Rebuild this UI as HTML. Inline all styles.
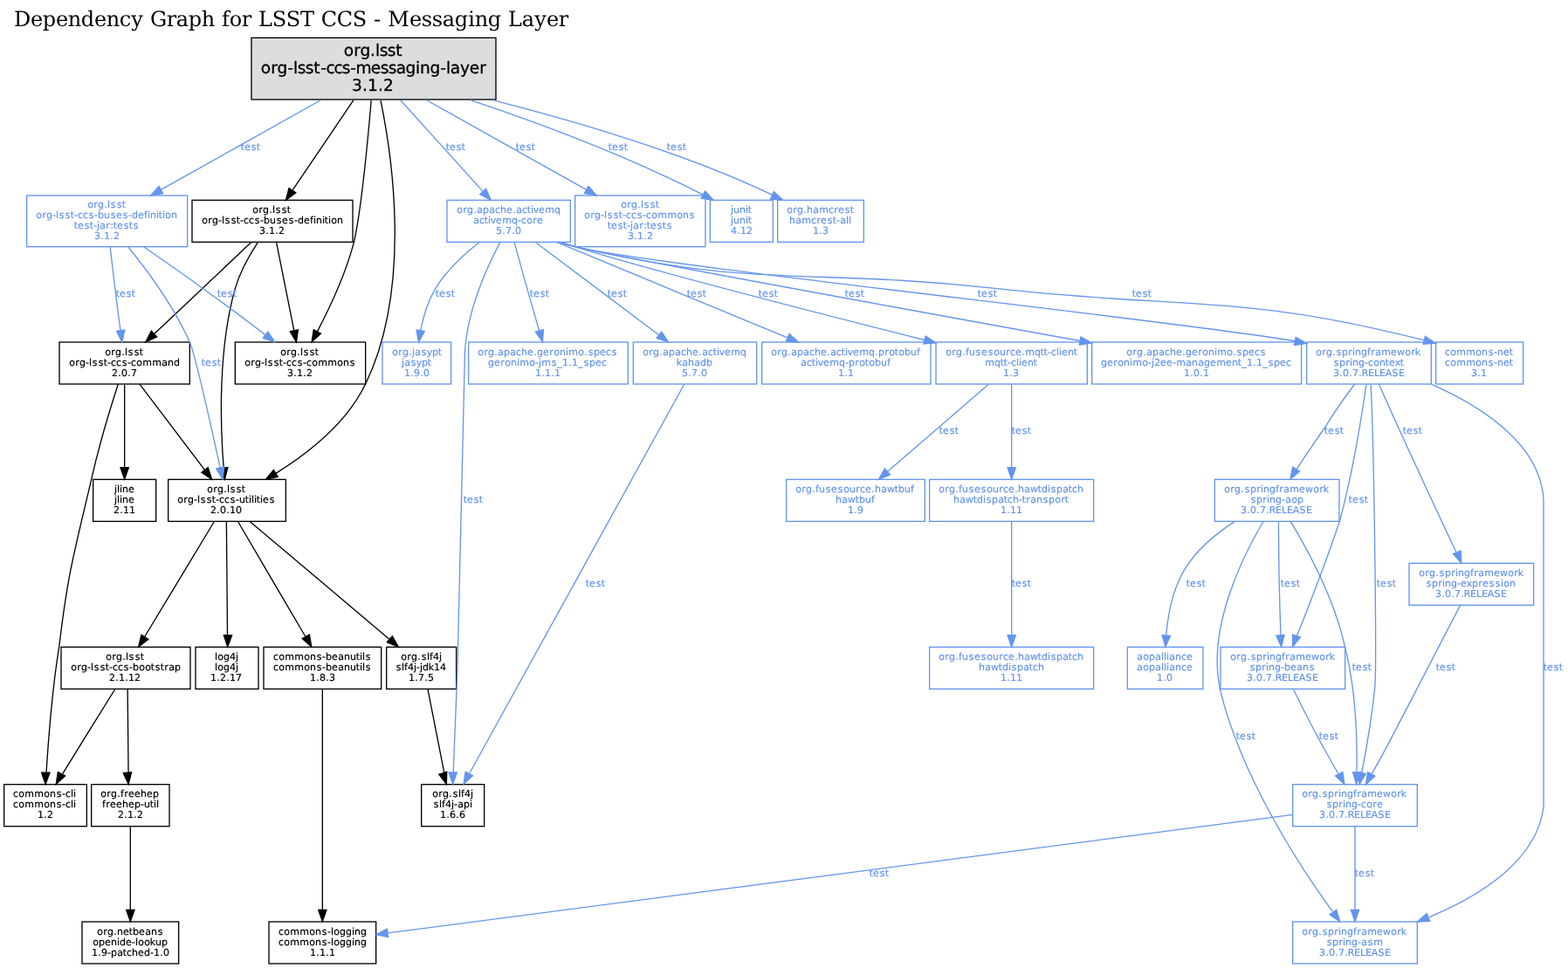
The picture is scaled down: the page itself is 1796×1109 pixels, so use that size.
<!DOCTYPE html>
<html lang="en"><head><meta charset="utf-8"><title>Dependency Graph for LSST CCS - Messaging Layer</title>
<style>html,body{margin:0;padding:0;background:#fff}svg{display:block;will-change:transform;transform:translateZ(0)}text{font-kerning:none;font-variant-ligatures:none;text-rendering:geometricPrecision;white-space:pre}.t{font-family:"DejaVu Serif","Liberation Serif",serif;font-size:24px;fill:#000}.r{font-family:"DejaVu Sans","Liberation Sans",sans-serif;font-size:18.6px;fill:#000;stroke:#000;stroke-width:0.3}.k{font-family:"DejaVu Sans","Liberation Sans",sans-serif;font-size:11px;fill:#000;stroke:#000;stroke-width:0.2}.b{font-family:"DejaVu Sans","Liberation Sans",sans-serif;font-size:11px;fill:#6495ed;stroke:#6495ed;stroke-width:0.2}.ek{fill:none;stroke:#000;stroke-width:1.3333}.eb{fill:none;stroke:#6495ed;stroke-width:1.3333}.ak{fill:#000;stroke:#000;stroke-width:1.3333}.ab{fill:#6495ed;stroke:#6495ed;stroke-width:1.3333}.nk{fill:none;stroke:#000;stroke-width:1.3333}.nb{fill:none;stroke:#6495ed;stroke-width:1.3333}.nr{fill:#ddd;stroke:#000;stroke-width:1.3333}</style></head><body>
<svg width="1796" height="1109" viewBox="0 0 1796 1109">
<rect x="0" y="0" width="1796" height="1109" fill="#fff"/>
<text class="t" x="15.88 34.9 48.82 63.9 77.77 92.82 107.9 121.77 136.78 150.22 164.19 171.91 190.76 201.85 215.82 230.77 246.19 254.06 262.78 276.76 288.19 296.03 311.78 327.78 344 360.19 367.82 385.82 403.78 420.19 427.95 436.19 444.21 468.9 482.84 494.84 506.85 520.82 536.16 543.77 558.82 574.19 582.03 597.85 612.22 625.9 639.76" y="30">Dependency Graph for LSST CCS - Messaging Layer</text>
<g id="nodes">
<g id="n-root"><rect class="nr" x="288" y="43.33" width="280" height="70.67"/>
<text class="r" x="393.81 405.18 412.6 424.04 429.92 434.65 443.65 453.35" y="64">org.lsst</text>
<text class="r" x="298.81 310.18 317.6 329.14 335.92 340.65 349.65 359.35 367.14 373.39 382.39 391.65 401.14 407.44 424.78 435.65 444.65 453.8 464.6 475.92 481.11 492.6 504.14 510.92 515.8 527 537.78 549.18" y="84">org-lsst-ccs-messaging-layer</text>
<text class="r" x="403.08 415.04 421.08 433.04 439.08" y="104">3.1.2</text>
</g>
<g id="n-busdeft"><rect class="nb" x="30.67" y="224" width="184" height="58.67"/>
<text class="b" x="100.14 107.24 112.01 119.25 122.97 126.63 133.63 139.84" y="238">org.lsst</text>
<text class="b" x="41.14 48.24 53.01 60.02 63.97 67.63 74.63 80.84 85.02 88.98 94.98 101.63 108.02 112.01 119.01 126.63 133.12 140.63 147.02 151.01 158.12 165.06 168.97 172.01 178.97 181.84 185.97 189.14 196.01" y="250">org-lsst-ccs-buses-definition</text>
<text class="b" x="84.84 89.12 96.63 102.84 107.02 110.97 114.13 121.24 126.15 129.84 134.12 141.63 147.84 152.63" y="262">test-jar:tests</text>
<text class="b" x="108 115.25 119 126.25 130" y="274">3.1.2</text>
</g>
<g id="n-busdef"><rect class="nk" x="220" y="229.33" width="184" height="48"/>
<text class="k" x="289.14 296.24 301.01 308.25 311.97 315.63 322.63 328.84" y="244">org.lsst</text>
<text class="k" x="231.14 238.24 243.01 250.02 253.97 257.63 264.63 270.84 275.02 278.98 284.98 291.63 298.02 302.01 309.01 316.63 323.12 330.63 337.02 341.01 348.12 355.06 358.97 362.01 368.97 371.84 375.97 379.14 386.01" y="256">org-lsst-ccs-buses-definition</text>
<text class="k" x="297 304.25 308 315.25 319" y="268">3.1.2</text>
</g>
<g id="n-amq"><rect class="nb" x="512" y="229.33" width="141.33" height="48"/>
<text class="b" x="523.14 530.24 535.01 542.25 546.13 553.01 560.13 566.98 573.01 580.12 587.25 591.13 597.98 603.84 607.97 610.75 617.12 624.14 635.01" y="244">org.apache.activemq</text>
<text class="b" x="542.13 548.98 554.84 558.97 561.75 568.12 575.14 586.01 593.02 596.98 603.14 610.24 615.12" y="256">activemq-core</text>
<text class="b" x="568 575.25 579 586.25 590" y="268">5.7.0</text>
</g>
<g id="n-commonst"><rect class="nb" x="658.67" y="224" width="149.33" height="58.67"/>
<text class="b" x="711.14 718.24 723.01 730.25 733.97 737.63 744.63 750.84" y="238">org.lsst</text>
<text class="b" x="669.14 676.24 681.01 688.02 691.97 695.63 702.63 708.84 713.02 716.98 722.98 729.63 736.02 739.98 746.14 753.14 764.14 775.14 782.01 789.63" y="250">org-lsst-ccs-commons</text>
<text class="b" x="695.84 700.12 707.63 713.84 718.02 721.97 725.13 732.24 737.15 740.84 745.12 752.63 758.84 763.63" y="262">test-jar:tests</text>
<text class="b" x="719 726.25 730 737.25 741" y="274">3.1.2</text>
</g>
<g id="n-junit"><rect class="nb" x="813.33" y="229.33" width="72" height="48"/>
<text class="b" x="836.97 840.01 847.01 853.97 856.84" y="244">junit</text>
<text class="b" x="836.97 840.01 847.01 853.97 856.84" y="256">junit</text>
<text class="b" x="837 844.25 848 855" y="268">4.12</text>
</g>
<g id="n-hamcrest"><rect class="nb" x="890.67" y="229.33" width="98.67" height="48"/>
<text class="b" x="901.14 908.24 913.01 920.25 924.01 931.13 938.14 948.98 955.24 960.12 967.63 973.84" y="244">org.hamcrest</text>
<text class="b" x="904.01 911.13 918.14 928.98 935.24 940.12 947.63 953.84 958.02 962.13 968.97 971.97" y="256">hamcrest-all</text>
<text class="b" x="931 938.25 942" y="268">1.3</text>
</g>
<g id="n-command"><rect class="nk" x="68" y="392" width="149.33" height="48"/>
<text class="k" x="120.14 127.24 132.01 139.25 142.97 146.63 153.63 159.84" y="407">org.lsst</text>
<text class="k" x="79.14 86.24 91.01 98.02 101.97 105.63 112.63 118.84 123.02 126.98 132.98 139.63 146.02 149.98 156.14 163.14 174.14 185.13 192.01 199.01" y="419">org-lsst-ccs-command</text>
<text class="k" x="128 135.25 139 146.25 150" y="431">2.0.7</text>
</g>
<g id="n-commons"><rect class="nk" x="269.33" y="392" width="149.33" height="48"/>
<text class="k" x="321.14 328.24 333.01 340.25 343.97 347.63 354.63 360.84" y="407">org.lsst</text>
<text class="k" x="280.14 287.24 292.01 299.02 302.97 306.63 313.63 319.84 324.02 327.98 333.98 340.63 347.02 350.98 357.14 364.14 375.14 386.14 393.01 400.63" y="419">org-lsst-ccs-commons</text>
<text class="k" x="329 336.25 340 347.25 351" y="431">3.1.2</text>
</g>
<g id="n-jasypt"><rect class="nb" x="438" y="392" width="78.67" height="48"/>
<text class="b" x="449.14 456.24 461.01 468.25 471.97 475.13 482.63 488.75 495.01 501.84" y="407">org.jasypt</text>
<text class="b" x="459.97 463.13 470.63 476.75 483.01 489.84" y="419">jasypt</text>
<text class="b" x="463 470.25 474 481.25 485" y="431">1.9.0</text>
</g>
<g id="n-jms"><rect class="nb" x="536.67" y="392" width="182.67" height="48"/>
<text class="b" x="547.14 554.24 559.01 566.25 570.13 577.01 584.13 590.98 597.01 604.12 611.25 615.01 622.12 629.24 634.14 641.01 647.97 651.14 662.14 669.25 673.63 680.01 687.12 693.98 700.63" y="407">org.apache.geronimo.specs</text>
<text class="b" x="559.01 566.12 573.24 578.14 585.01 591.97 595.14 606.14 613.02 616.97 620.14 631.63 638.25 644 651.25 655 662.25 668.63 675.01 682.12 688.98" y="419">geronimo-jms_1.1_spec</text>
<text class="b" x="613 620.25 624 631.25 635" y="431">1.1.1</text>
</g>
<g id="n-kahadb"><rect class="nb" x="725.33" y="392" width="141.33" height="48"/>
<text class="b" x="736.14 743.24 748.01 755.25 759.13 766.01 773.13 779.98 786.01 793.12 800.25 804.13 810.98 816.84 820.97 823.75 830.12 837.14 848.01" y="407">org.apache.activemq</text>
<text class="b" x="774.81 781.13 788.01 795.13 802.01 809.01" y="419">kahadb</text>
<text class="b" x="781 788.25 792 799.25 803" y="431">5.7.0</text>
</g>
<g id="n-protobuf"><rect class="nb" x="872.67" y="392" width="193.33" height="48"/>
<text class="b" x="883.14 890.24 895.01 902.25 906.13 913.01 920.13 926.98 933.01 940.12 947.25 951.13 957.98 963.84 967.97 970.75 977.12 984.14 995.01 1002.25 1006.01 1013.24 1018.14 1024.84 1029.14 1036.01 1043.01 1050.06" y="407">org.apache.activemq.protobuf</text>
<text class="b" x="917.13 923.98 929.84 933.97 936.75 943.12 950.14 961.01 968.02 972.01 979.24 984.14 990.84 995.14 1002.01 1009.01 1016.06" y="419">activemq-protobuf</text>
<text class="b" x="960 967.25 971" y="431">1.1</text>
</g>
<g id="n-mqtt"><rect class="nb" x="1072" y="392" width="173.33" height="48"/>
<text class="b" x="1083.14 1090.24 1095.01 1102.25 1106.06 1110.01 1117.63 1124.12 1131.63 1138.14 1145.01 1152.24 1156.98 1163.12 1170.25 1174.14 1185.01 1191.84 1195.84 1200.02 1203.98 1209.97 1212.97 1216.12 1223.01 1229.84" y="407">org.fusesource.mqtt-client</text>
<text class="b" x="1128.14 1139.01 1145.84 1149.84 1154.02 1157.98 1163.97 1166.97 1170.12 1177.01 1183.84" y="419">mqtt-client</text>
<text class="b" x="1149 1156.25 1160" y="431">1.3</text>
</g>
<g id="n-j2ee"><rect class="nb" x="1250.67" y="392" width="240" height="48"/>
<text class="b" x="1290.14 1297.24 1302.01 1309.25 1313.13 1320.01 1327.13 1333.98 1340.01 1347.12 1354.25 1358.01 1365.12 1372.24 1377.14 1384.01 1390.97 1394.14 1405.14 1412.25 1416.63 1423.01 1430.12 1436.98 1443.63" y="407">org.apache.geronimo.specs</text>
<text class="b" x="1261.01 1268.12 1275.24 1280.14 1287.01 1293.97 1297.14 1308.14 1315.02 1318.97 1322 1329.12 1336.12 1343.02 1347.14 1358.13 1365.01 1372.13 1379.01 1386.12 1393.14 1404.12 1411.01 1417.84 1422.25 1428 1435.25 1439 1446.25 1452.63 1459.01 1466.12 1472.98" y="419">geronimo-j2ee-management_1.1_spec</text>
<text class="b" x="1356 1363.25 1367 1374.25 1378" y="431">1.0.1</text>
</g>
<g id="n-context"><rect class="nb" x="1496.67" y="392" width="142.67" height="48"/>
<text class="b" x="1507.14 1514.24 1519.01 1526.25 1530.63 1537.01 1544.24 1548.97 1552.01 1559.01 1566.06 1570.24 1575.13 1582.14 1593.12 1600 1609.14 1616.24 1620.81" y="407">org.springframework</text>
<text class="b" x="1527.63 1534.01 1541.24 1545.97 1549.01 1556.01 1563.02 1566.98 1573.14 1580.01 1586.84 1591.12 1597.75 1603.84" y="419">spring-context</text>
<text class="b" x="1527 1534.25 1538 1545.25 1549 1556.25 1559.68 1567.02 1573.94 1580.02 1586.74 1594.51 1602.02" y="431">3.0.7.RELEASE</text>
</g>
<g id="n-net"><rect class="nb" x="1644.67" y="392" width="100" height="48"/>
<text class="b" x="1654.98 1661.14 1668.14 1679.14 1690.14 1697.01 1704.63 1711.02 1715.01 1722.12 1728.84" y="407">commons-net</text>
<text class="b" x="1654.98 1661.14 1668.14 1679.14 1690.14 1697.01 1704.63 1711.02 1715.01 1722.12 1728.84" y="419">commons-net</text>
<text class="b" x="1685 1692.25 1696" y="431">3.1</text>
</g>
<g id="n-jline"><rect class="nk" x="106.67" y="549.33" width="72" height="48"/>
<text class="k" x="130.97 133.97 136.97 140.01 147.12" y="564">jline</text>
<text class="k" x="130.97 133.97 136.97 140.01 147.12" y="576">jline</text>
<text class="k" x="130 137.25 141 148" y="588">2.11</text>
</g>
<g id="n-utilities"><rect class="nk" x="192.67" y="549.33" width="134.67" height="48"/>
<text class="k" x="237.14 244.24 249.01 256.25 259.97 263.63 270.63 276.84" y="564">org.lsst</text>
<text class="k" x="203.14 210.24 215.01 222.02 225.97 229.63 236.63 242.84 247.02 250.98 256.98 263.63 270.02 274.01 280.84 284.97 287.97 290.97 293.84 297.97 301.12 308.63" y="576">org-lsst-ccs-utilities</text>
<text class="k" x="241 248.25 252 259.25 263 270" y="588">2.0.10</text>
</g>
<g id="n-hawtbuf"><rect class="nb" x="900.67" y="549.33" width="158.67" height="48"/>
<text class="b" x="911.14 918.24 923.01 930.25 934.06 938.01 945.63 952.12 959.63 966.14 973.01 980.24 984.98 991.12 998.25 1002.01 1009.13 1016 1024.84 1029.01 1036.01 1043.06" y="564">org.fusesource.hawtbuf</text>
<text class="b" x="957.01 964.13 971 979.84 984.01 991.01 998.06" y="576">hawtbuf</text>
<text class="b" x="971 978.25 982" y="588">1.9</text>
</g>
<g id="n-hdt"><rect class="nb" x="1064.67" y="549.33" width="188" height="48"/>
<text class="b" x="1075.14 1082.24 1087.01 1094.25 1098.06 1102.01 1109.63 1116.12 1123.63 1130.14 1137.01 1144.24 1148.98 1155.12 1162.25 1166.01 1173.13 1180 1188.84 1193.01 1199.97 1203.63 1210.01 1217.13 1223.84 1227.98 1234.01" y="564">org.fusesource.hawtdispatch</text>
<text class="b" x="1092.01 1099.13 1106 1114.84 1119.01 1125.97 1129.63 1136.01 1143.13 1149.84 1153.98 1160.01 1167.02 1170.84 1175.24 1180.13 1187.01 1194.63 1201.01 1208.14 1215.24 1219.84" y="576">hawtdispatch-transport</text>
<text class="b" x="1146 1153.25 1157 1164" y="588">1.11</text>
</g>
<g id="n-aop"><rect class="nb" x="1391.33" y="549.33" width="142.67" height="48"/>
<text class="b" x="1402.14 1409.24 1414.01 1421.25 1425.63 1432.01 1439.24 1443.97 1447.01 1454.01 1461.06 1465.24 1470.13 1477.14 1488.12 1495 1504.14 1511.24 1515.81" y="564">org.springframework</text>
<text class="b" x="1432.63 1439.01 1446.24 1450.97 1454.01 1461.01 1468.02 1472.13 1479.14 1486.01" y="576">spring-aop</text>
<text class="b" x="1421 1428.25 1432 1439.25 1443 1450.25 1453.68 1461.02 1467.94 1474.02 1480.74 1488.51 1496.02" y="588">3.0.7.RELEASE</text>
</g>
<g id="n-expr"><rect class="nb" x="1614" y="645.33" width="142.67" height="48"/>
<text class="b" x="1625.14 1632.24 1637.01 1644.25 1648.63 1655.01 1662.24 1666.97 1670.01 1677.01 1684.06 1688.24 1693.13 1700.14 1711.12 1718 1727.14 1734.24 1738.81" y="660">org.springframework</text>
<text class="b" x="1633.63 1640.01 1647.24 1651.97 1655.01 1662.01 1669.02 1673.12 1679.75 1686.01 1693.24 1698.12 1705.63 1712.63 1718.97 1722.14 1729.01" y="672">spring-expression</text>
<text class="b" x="1644 1651.25 1655 1662.25 1666 1673.25 1676.68 1684.02 1690.94 1697.02 1703.74 1711.51 1719.02" y="684">3.0.7.RELEASE</text>
</g>
<g id="n-bootstrap"><rect class="nk" x="70" y="741.33" width="148" height="48"/>
<text class="k" x="121.14 128.24 133.01 140.25 143.97 147.63 154.63 160.84" y="756">org.lsst</text>
<text class="k" x="81.14 88.24 93.01 100.02 103.97 107.63 114.63 120.84 125.02 128.98 134.98 141.63 148.02 152.01 159.14 166.14 172.84 177.63 183.84 188.24 193.13 200.01" y="768">org-lsst-ccs-bootstrap</text>
<text class="k" x="125 132.25 136 143.25 147 154" y="780">2.1.12</text>
</g>
<g id="n-log4j"><rect class="nk" x="224" y="741.33" width="72" height="48"/>
<text class="k" x="245.97 249.14 256.01 263 269.97" y="756">log4j</text>
<text class="k" x="245.97 249.14 256.01 263 269.97" y="768">log4j</text>
<text class="k" x="241 248.25 252 259.25 263 270" y="780">1.2.17</text>
</g>
<g id="n-beanutils"><rect class="nk" x="302" y="741.33" width="134.67" height="48"/>
<text class="k" x="312.98 319.14 326.14 337.14 348.14 355.01 362.63 369.02 373.01 380.12 387.13 394.01 401.01 407.84 411.97 414.97 418.63" y="756">commons-beanutils</text>
<text class="k" x="312.98 319.14 326.14 337.14 348.14 355.01 362.63 369.02 373.01 380.12 387.13 394.01 401.01 407.84 411.97 414.97 418.63" y="768">commons-beanutils</text>
<text class="k" x="355 362.25 366 373.25 377" y="780">1.8.3</text>
</g>
<g id="n-jdk14"><rect class="nk" x="442.67" y="741.33" width="80" height="48"/>
<text class="k" x="459.14 466.24 471.01 478.25 482.63 488.97 492.06 496 502.97" y="756">org.slf4j</text>
<text class="k" x="453.63 459.97 463.06 467 473.97 477.02 480.97 484.01 490.81 497 504" y="768">slf4j-jdk14</text>
<text class="k" x="468 475.25 479 486.25 490" y="780">1.7.5</text>
</g>
<g id="n-hd"><rect class="nb" x="1064.67" y="741.33" width="188" height="48"/>
<text class="b" x="1075.14 1082.24 1087.01 1094.25 1098.06 1102.01 1109.63 1116.12 1123.63 1130.14 1137.01 1144.24 1148.98 1155.12 1162.25 1166.01 1173.13 1180 1188.84 1193.01 1199.97 1203.63 1210.01 1217.13 1223.84 1227.98 1234.01" y="756">org.fusesource.hawtdispatch</text>
<text class="b" x="1121.01 1128.13 1135 1143.84 1148.01 1154.97 1158.63 1165.01 1172.13 1178.84 1182.98 1189.01" y="768">hawtdispatch</text>
<text class="b" x="1146 1153.25 1157 1164" y="780">1.11</text>
</g>
<g id="n-aopalliance"><rect class="nb" x="1291.33" y="741.33" width="86.67" height="48"/>
<text class="b" x="1302.13 1309.14 1316.01 1323.13 1329.97 1332.97 1335.97 1339.13 1346.01 1352.98 1359.12" y="756">aopalliance</text>
<text class="b" x="1302.13 1309.14 1316.01 1323.13 1329.97 1332.97 1335.97 1339.13 1346.01 1352.98 1359.12" y="768">aopalliance</text>
<text class="b" x="1325 1332.25 1336" y="780">1.0</text>
</g>
<g id="n-beans"><rect class="nb" x="1398" y="741.33" width="142.67" height="48"/>
<text class="b" x="1409.14 1416.24 1421.01 1428.25 1432.63 1439.01 1446.24 1450.97 1454.01 1461.01 1468.06 1472.24 1477.13 1484.14 1495.12 1502 1511.14 1518.24 1522.81" y="756">org.springframework</text>
<text class="b" x="1431.63 1438.01 1445.24 1449.97 1453.01 1460.01 1467.02 1471.01 1478.12 1485.13 1492.01 1499.63" y="768">spring-beans</text>
<text class="b" x="1428 1435.25 1439 1446.25 1450 1457.25 1460.68 1468.02 1474.94 1481.02 1487.74 1495.51 1503.02" y="780">3.0.7.RELEASE</text>
</g>
<g id="n-cli"><rect class="nk" x="4.67" y="898.67" width="94.67" height="48"/>
<text class="k" x="14.98 21.14 28.14 39.14 50.14 57.01 64.63 71.02 74.98 80.97 83.97" y="913">commons-cli</text>
<text class="k" x="14.98 21.14 28.14 39.14 50.14 57.01 64.63 71.02 74.98 80.97 83.97" y="925">commons-cli</text>
<text class="k" x="43 50.25 54" y="937">1.2</text>
</g>
<g id="n-freehep"><rect class="nk" x="104.67" y="898.67" width="89.33" height="48"/>
<text class="k" x="115.14 122.24 127.01 134.25 138.06 142.24 147.12 154.12 161.01 168.12 175.01" y="913">org.freehep</text>
<text class="k" x="117.06 121.24 126.12 133.12 140.01 147.12 154.01 161.02 165.01 171.84 175.97 178.97" y="925">freehep-util</text>
<text class="k" x="135 142.25 146 153.25 157" y="937">2.1.2</text>
</g>
<g id="n-slf4japi"><rect class="nk" x="482.67" y="898.67" width="72" height="48"/>
<text class="k" x="495.14 502.24 507.01 514.25 518.63 524.97 528.06 532 538.97" y="913">org.slf4j</text>
<text class="k" x="496.63 502.97 506.06 510 516.97 520.02 524.13 531.01 537.97" y="925">slf4j-api</text>
<text class="k" x="504 511.25 515 522.25 526" y="937">1.6.6</text>
</g>
<g id="n-core"><rect class="nb" x="1480.67" y="898.67" width="142.67" height="48"/>
<text class="b" x="1491.14 1498.24 1503.01 1510.25 1514.63 1521.01 1528.24 1532.97 1536.01 1543.01 1550.06 1554.24 1559.13 1566.14 1577.12 1584 1593.14 1600.24 1604.81" y="913">org.springframework</text>
<text class="b" x="1519.63 1526.01 1533.24 1537.97 1541.01 1548.01 1555.02 1558.98 1565.14 1572.24 1577.12" y="925">spring-core</text>
<text class="b" x="1511 1518.25 1522 1529.25 1533 1540.25 1543.68 1551.02 1557.94 1564.02 1570.74 1578.51 1586.02" y="937">3.0.7.RELEASE</text>
</g>
<g id="n-netbeans"><rect class="nk" x="94" y="1056" width="110.67" height="48"/>
<text class="k" x="111.14 118.24 123.01 130.25 134.01 141.12 147.84 152.01 159.12 166.13 173.01 180.63" y="1071">org.netbeans</text>
<text class="k" x="106.14 113.01 120.12 127.01 133.97 137.01 144.12 151.02 154.97 158.14 165.14 171.81 178.01 185.01" y="1083">openide-lookup</text>
<text class="k" x="105 112.25 116 123.02 127.01 134.13 140.84 144.98 151.01 158.12 165.01 172.02 176 183.25 187" y="1095">1.9-patched-1.0</text>
</g>
<g id="n-logging"><rect class="nk" x="308" y="1056" width="122.67" height="48"/>
<text class="k" x="318.98 325.14 332.14 343.14 354.14 361.01 368.63 375.02 378.97 382.14 389.01 396.01 402.97 406.01 413.01" y="1071">commons-logging</text>
<text class="k" x="318.98 325.14 332.14 343.14 354.14 361.01 368.63 375.02 378.97 382.14 389.01 396.01 402.97 406.01 413.01" y="1083">commons-logging</text>
<text class="k" x="355 362.25 366 373.25 377" y="1095">1.1.1</text>
</g>
<g id="n-asm"><rect class="nb" x="1480.67" y="1056" width="142.67" height="48"/>
<text class="b" x="1491.14 1498.24 1503.01 1510.25 1514.63 1521.01 1528.24 1532.97 1536.01 1543.01 1550.06 1554.24 1559.13 1566.14 1577.12 1584 1593.14 1600.24 1604.81" y="1071">org.springframework</text>
<text class="b" x="1519.63 1526.01 1533.24 1537.97 1541.01 1548.01 1555.02 1559.13 1566.63 1573.14" y="1083">spring-asm</text>
<text class="b" x="1511 1518.25 1522 1529.25 1533 1540.25 1543.68 1551.02 1557.94 1564.02 1570.74 1578.51 1586.02" y="1095">3.0.7.RELEASE</text>
</g>
</g>
<g id="edges">
<g id="e-beanutils-logging"><path class="ek" d="M369.33,789.61C369.33,843.25 369.33,977.23 369.33,1042.2"/>
<polygon class="ak" points="374,1042.36 369.33,1055.69 364.67,1042.36"/>
</g>
<g id="e-freehep-netbeans"><path class="ek" d="M149.33,946.83C149.33,971.95 149.33,1012.71 149.33,1042.27"/>
<polygon class="ak" points="154,1042.41 149.33,1055.75 144.67,1042.41"/>
</g>
<g id="e-expr-core"><path class="eb" d="M1672.49,693.61C1654.45,728.03 1620.19,794.92 1590.98,850.67 1584.82,862.44 1577.79,875.15 1571.38,886.49"/>
<polygon class="ab" points="1574.88,889.05 1564.47,898.6 1566.65,884.64"/>
<text class="b" x="1644.84 1649.12 1656.63 1662.84" y="768">test</text>
</g>
<g id="e-core-logging"><path class="eb" d="M1480.44,933.33C1270.44,960.75 658.33,1040.91 444.36,1068.89"/>
<polygon class="ab" points="444.63,1073.56 430.8,1070.65 443.41,1064.31"/>
<text class="b" x="995.84 1000.12 1007.63 1013.84" y="1004">test</text>
</g>
<g id="e-core-asm"><path class="eb" d="M1552,946.83C1552,971.95 1552,1012.71 1552,1042.27"/>
<polygon class="ab" points="1556.67,1042.41 1552,1055.75 1547.33,1042.41"/>
<text class="b" x="1551.84 1556.12 1563.63 1569.84" y="1004">test</text>
</g>
<g id="e-mqtt-hawtbuf"><path class="eb" d="M1132.31,440.16C1101.69,466.65 1051,510.53 1016.59,540.32"/>
<polygon class="ab" points="1019.6,543.88 1006.47,549.08 1013.49,536.83"/>
<text class="b" x="1075.84 1080.12 1087.63 1093.84" y="497">test</text>
</g>
<g id="e-mqtt-hdt"><path class="eb" d="M1158.67,440.16C1158.67,465.28 1158.67,506.04 1158.67,535.6"/>
<polygon class="ab" points="1163.33,535.75 1158.67,549.08 1154,535.75"/>
<text class="b" x="1158.84 1163.12 1170.63 1176.84" y="497">test</text>
</g>
<g id="e-hdt-hd"><path class="eb" d="M1158.67,597.51C1158.67,629.77 1158.67,689.05 1158.67,727.48"/>
<polygon class="ab" points="1163.33,727.75 1158.67,741.08 1154,727.75"/>
<text class="b" x="1158.84 1163.12 1170.63 1176.84" y="672">test</text>
</g>
<g id="e-amq-mqtt"><path class="eb" d="M642.64,277.36C648.02,279.23 653.4,281.01 658.61,282.67 732.49,306.05 935.07,358.21 1058.8,389.51"/>
<polygon class="ab" points="1060.21,385.04 1071.99,392.84 1057.92,394.09"/>
<text class="b" x="868.84 873.12 880.63 886.84" y="340">test</text>
</g>
<g id="e-amq-jasypt"><path class="eb" d="M549.15,277.45C531.67,291 511.35,309.61 498.67,330.67 489.99,345.08 484.83,362.92 481.76,378.44"/>
<polygon class="ab" points="486.31,379.52 479.49,391.89 477.11,377.97"/>
<text class="b" x="498.84 503.12 510.63 516.84" y="340">test</text>
</g>
<g id="e-amq-slf4japi"><path class="eb" d="M572.81,277.64C556.65,307.95 531.53,363.45 532.22,414.67 532.22,414.67 532.22,414.67 523.95,766.67 522.34,807 520.48,853.25 519.23,884.59"/>
<polygon class="ab" points="523.33,884.95 518.67,898.28 514,884.95"/>
<text class="b" x="530.84 535.12 542.63 548.84" y="576">test</text>
</g>
<g id="e-amq-jms"><path class="eb" d="M589.16,277.59C596.34,303.97 608.46,347.61 617.61,378.56"/>
<polygon class="ab" points="622.37,377.68 621.52,391.79 613.39,380.23"/>
<text class="b" x="606.84 611.12 618.63 624.84" y="340">test</text>
</g>
<g id="e-amq-kahadb"><path class="eb" d="M613.23,277.59C650.31,305.39 712.96,352.39 754.4,383.47"/>
<polygon class="ab" points="757.63,380.05 765.49,391.79 752.03,387.52"/>
<text class="b" x="695.84 700.12 707.63 713.84" y="340">test</text>
</g>
<g id="e-amq-protobuf"><path class="eb" d="M637.65,277.43C706.91,306.21 826.56,355.77 901.92,386.8"/>
<polygon class="ab" points="904,382.59 914.53,391.99 900.43,391.2"/>
<text class="b" x="786.84 791.12 798.63 804.84" y="340">test</text>
</g>
<g id="e-amq-j2ee"><path class="eb" d="M641.27,277.37C647.11,279.29 652.97,281.11 658.67,282.67 686.4,290.29 1038.48,354.49 1236.91,390.47"/>
<polygon class="ab" points="1238.05,385.93 1250.33,392.91 1236.39,395.12"/>
<text class="b" x="967.84 972.12 979.63 985.84" y="340">test</text>
</g>
<g id="e-amq-context"><path class="eb" d="M640.35,277.43C646.47,279.39 652.65,281.19 658.67,282.67 745.75,304.15 1350.72,367.67 1483.04,390.73"/>
<polygon class="ab" points="1484.24,386.21 1496.47,393.28 1482.51,395.39"/>
<text class="b" x="1119.84 1124.12 1131.63 1137.84" y="340">test</text>
</g>
<g id="e-amq-net"><path class="eb" d="M639.47,277.36C645.8,279.39 652.23,281.21 658.49,282.67 868.12,331.19 927.59,306.69 1142.22,330.67 1358.88,354.72 1420.72,336.12 1630.84,389.72"/>
<polygon class="ab" points="1632.48,385.29 1644.2,393.17 1630.12,394.33"/>
<text class="b" x="1296.84 1301.12 1308.63 1314.84" y="340">test</text>
</g>
<g id="e-kahadb-slf4japi"><path class="eb" d="M783.73,440.29C739.38,520.65 591.01,789.53 537.62,886.28"/>
<polygon class="ab" points="541.41,888.67 531.01,898.23 533.17,884.28"/>
<text class="b" x="670.84 675.12 682.63 688.84" y="672">test</text>
</g>
<g id="e-context-expr"><path class="eb" d="M1579.47,440.03C1598.48,483.81 1643.36,580.28 1667.89,632.59"/>
<polygon class="ab" points="1673.14,631.07 1673.81,645.19 1664.49,634.57"/>
<text class="b" x="1606.84 1611.12 1618.63 1624.84" y="497">test</text>
</g>
<g id="e-context-core"><path class="eb" d="M1570.17,440.47C1573.99,519.07 1577.28,771.96 1574.58,789.33 1571.22,822.13 1564.91,859.01 1559.76,885.44"/>
<polygon class="ab" points="1564.41,886.49 1557.12,898.59 1555.28,884.59"/>
<text class="b" x="1576.84 1581.12 1588.63 1594.84" y="672">test</text>
</g>
<g id="e-context-aop"><path class="eb" d="M1551.49,440.23C1541.36,453.75 1528.74,471.41 1518.76,488 1507.78,503.69 1495.39,521.87 1485.33,537.29"/>
<polygon class="ab" points="1488.71,540 1477.81,548.97 1480.74,535.16"/>
<text class="b" x="1516.84 1521.12 1528.63 1534.84" y="497">test</text>
</g>
<g id="e-context-asm"><path class="eb" d="M1639.34,440.03C1693.76,463.92 1764.15,507.17 1767.99,572 1767.99,572 1767.99,572 1768.07,924 1760.73,986.11 1694.57,1026.8 1636.92,1050.79"/>
<polygon class="ab" points="1637.73,1055.23 1623.64,1056.09 1634.12,1046.63"/>
<text class="b" x="1767.84 1772.12 1779.63 1785.84" y="768">test</text>
</g>
<g id="e-context-beans"><path class="eb" d="M1565,440.24C1560.03,474.6 1549.61,541.44 1534.41,597.33 1519.05,642.99 1498.95,694.71 1485.61,728.25"/>
<polygon class="ab" points="1489.41,730.07 1480.5,741.03 1480.63,726.89"/>
<text class="b" x="1544.84 1549.12 1556.63 1562.84" y="576">test</text>
</g>
<g id="e-aop-core"><path class="eb" d="M1478.38,597.68C1497.03,628.72 1528.44,686.45 1540.57,741.33 1552.86,789.59 1554.61,847.73 1553.98,884.63"/>
<polygon class="ab" points="1558.84,884.99 1553.63,898.11 1549.52,884.6"/>
<text class="b" x="1548.84 1553.12 1560.63 1566.84" y="768">test</text>
</g>
<g id="e-aop-aopalliance"><path class="eb" d="M1414.37,597.41C1395.81,609.35 1375.42,625.61 1361.47,645.33 1343.65,670 1337.83,702.79 1335.74,727.65"/>
<polygon class="ab" points="1340.51,728.28 1334.89,741.25 1331.19,727.63"/>
<text class="b" x="1358.84 1363.12 1370.63 1376.84" y="672">test</text>
</g>
<g id="e-aop-asm"><path class="eb" d="M1446.78,597.76C1423.57,636.97 1382.45,719.17 1397.35,789.33 1421.16,889.36 1488.8,992.57 1526.35,1044.47"/>
<polygon class="ab" points="1530.75,1042.39 1534.75,1055.93 1523.17,1047.84"/>
<text class="b" x="1415.84 1420.12 1427.63 1433.84" y="847">test</text>
</g>
<g id="e-aop-beans"><path class="eb" d="M1464.43,597.51C1464.53,629.77 1465.47,689.05 1467.02,727.48"/>
<polygon class="ab" points="1471.19,727.43 1467.56,741.08 1461.88,728.15"/>
<text class="b" x="1466.84 1471.12 1478.63 1484.84" y="672">test</text>
</g>
<g id="e-beans-core"><path class="eb" d="M1481.33,789.49C1493.84,815.08 1515.54,856.87 1532.95,886.53"/>
<polygon class="ab" points="1537.88,884.44 1539.95,898.41 1529.61,888.79"/>
<text class="b" x="1510.84 1515.12 1522.63 1528.84" y="847">test</text>
</g>
<g id="e-jdk14-slf4japi"><path class="ek" d="M489.93,789.49C494.9,814.73 502.98,855.75 508.81,885.33"/>
<polygon class="ak" points="511.75,884.29 511.36,898.41 502.85,887.13"/>
</g>
<g id="e-bootstrap-freehep"><path class="ek" d="M146.15,789.49C146.39,814.61 146.78,855.37 147.05,884.93"/>
<polygon class="ak" points="150.55,884.71 147.16,898.41 141.25,885.59"/>
</g>
<g id="e-bootstrap-cli"><path class="ek" d="M131.79,789.49C115.92,815.08 90.02,856.87 71.64,886.53"/>
<polygon class="ak" points="74.65,888.85 64.25,898.41 66.41,884.45"/>
</g>
<g id="e-busdef-command"><path class="ek" d="M287.73,277.59C258.69,305.04 209.85,351.19 176.96,382.27"/>
<polygon class="ak" points="179.77,386.01 166.88,391.79 173.37,379.24"/>
</g>
<g id="e-busdef-utilities"><path class="ek" d="M295.48,277.36C285.93,291.84 274.76,311.44 269.33,330.67 249.47,401.07 252.33,487.59 256.19,535.56"/>
<polygon class="ak" points="260.87,535.47 257.39,549.16 251.57,536.29"/>
</g>
<g id="e-busdef-commons"><path class="ek" d="M316.59,277.59C321.87,303.97 330.59,347.61 336.77,378.56"/>
<polygon class="ak" points="341.39,377.8 339.43,391.79 332.23,379.63"/>
</g>
<g id="e-command-cli"><path class="ek" d="M135.36,440.07C126.86,466.24 113.28,510.61 104.67,549.33 84.77,633.85 77.99,654.97 67.67,741.33 59.62,790.72 55.37,848.24 53.06,884.71"/>
<polygon class="ak" points="56.99,885.25 52.11,898.51 47.65,885.11"/>
</g>
<g id="e-command-utilities"><path class="ek" d="M159.97,440.16C179.65,466.08 211.95,508.65 234.49,538.39"/>
<polygon class="ak" points="238.28,535.64 242.61,549.08 230.84,541.28"/>
</g>
<g id="e-command-jline"><path class="ek" d="M142.67,440.16C142.67,465.28 142.67,506.04 142.67,535.6"/>
<polygon class="ak" points="147.33,535.75 142.67,549.08 138,535.75"/>
</g>
<g id="e-utilities-beanutils"><path class="ek" d="M272.55,597.51C291.72,630.2 327.15,690.63 349.65,728.99"/>
<polygon class="ak" points="354.41,727.15 356.75,741.08 346.24,731.64"/>
</g>
<g id="e-utilities-jdk14"><path class="ek" d="M286.22,597.51C325.97,631.05 400.32,693.8 445.52,731.95"/>
<polygon class="ak" points="449.37,728.8 456.36,741.08 443.24,735.84"/>
</g>
<g id="e-utilities-bootstrap"><path class="ek" d="M245.37,597.51C225.54,630.35 188.82,691.15 165.68,729.49"/>
<polygon class="ak" points="169.81,732.37 158.69,741.08 161.95,727.33"/>
</g>
<g id="e-utilities-log4j"><path class="ek" d="M259.37,597.51C259.65,629.77 260.17,689.05 260.51,727.48"/>
<polygon class="ak" points="265.68,727.88 260.64,741.08 256.36,727.63"/>
</g>
<g id="e-busdeft-command"><path class="eb" d="M126.2,282.91C129.19,309.45 133.99,349.35 137.95,378.28"/>
<polygon class="ab" points="142.8,378.08 139.81,391.88 133.53,379.23"/>
<text class="b" x="132.84 137.12 144.63 150.84" y="340">test</text>
</g>
<g id="e-busdeft-utilities"><path class="eb" d="M146.73,282.77C168.25,309.29 199.11,350.99 217.33,392 223.13,405.05 241.48,486.92 252.13,535.64"/>
<polygon class="ab" points="256.77,534.97 255.04,549 247.65,536.96"/>
<text class="b" x="230.84 235.12 242.63 248.84" y="419">test</text>
</g>
<g id="e-busdeft-commons"><path class="eb" d="M164.51,282.72C185.19,296.87 210.47,314.43 232.75,330.67 256.38,347.71 282.57,367.35 303.59,383.35"/>
<polygon class="ab" points="306.97,379.99 314.69,391.83 301.28,387.37"/>
<text class="b" x="248.84 253.12 260.63 266.84" y="340">test</text>
</g>
<g id="e-root-amq"><path class="eb" d="M458.93,114.93C486.37,145.32 526.19,189.43 553.19,219.33"/>
<polygon class="ab" points="556.68,216.25 562.16,229.28 549.76,222.51"/>
<text class="b" x="510.84 515.12 522.63 528.84" y="172">test</text>
</g>
<g id="e-root-busdef"><path class="ek" d="M404.8,114.93C384.49,144.93 355.15,188.28 334.92,218.16"/>
<polygon class="ak" points="338.72,220.85 327.39,229.28 331,215.63"/>
</g>
<g id="e-root-utilities"><path class="ek" d="M436.03,115.03C449.72,181.65 471.35,331.35 418.67,440 397.01,484.65 352.35,519.64 315.91,542.33"/>
<polygon class="ak" points="318.23,546.37 304.4,549.27 313.41,538.39"/>
</g>
<g id="e-root-commons"><path class="ek" d="M425.21,115C420.99,164.13 412.57,251.97 404,282.67 394.4,317.04 377.03,353.84 363.44,379.83"/>
<polygon class="ak" points="367.52,382.09 357.12,391.65 359.28,377.69"/>
</g>
<g id="e-root-busdeft"><path class="eb" d="M367.31,114.72C314.28,144.48 237.64,187.48 184.32,217.4"/>
<polygon class="ab" points="186.56,221.51 172.64,223.96 181.99,213.36"/>
<text class="b" x="275.84 280.12 287.63 293.84" y="172">test</text>
</g>
<g id="e-root-commonst"><path class="eb" d="M488.69,114.72C541.72,144.48 618.36,187.48 671.68,217.4"/>
<polygon class="ab" points="674.01,213.36 683.36,223.96 669.44,221.51"/>
<text class="b" x="590.84 595.12 602.63 608.84" y="172">test</text>
</g>
<g id="e-root-junit"><path class="eb" d="M538.62,114.72C612.57,139.33 711.68,175.69 805.3,223.11"/>
<polygon class="ab" points="807.57,218.99 817.28,229.24 803.29,227.28"/>
<text class="b" x="696.84 701.12 708.63 714.84" y="172">test</text>
</g>
<g id="e-root-hamcrest"><path class="eb" d="M564.14,114.68C659.26,139 784.01,175.16 885.6,223.85"/>
<polygon class="ab" points="886.32,219.6 896.65,229.23 882.57,228.15"/>
<text class="b" x="763.84 768.12 775.63 781.84" y="172">test</text>
</g>
</g>
</svg></body></html>
